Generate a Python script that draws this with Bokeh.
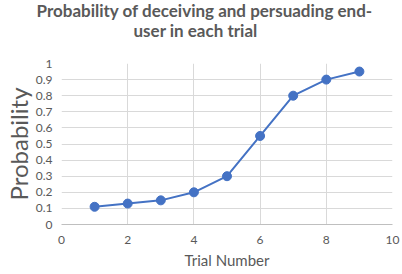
from bokeh.plotting import figure
from bokeh.models import Title, FixedTicker, Range1d, NumeralTickFormatter
from bokeh.embed import file_html
from bokeh.resources import INLINE

trials = [1, 2, 3, 4, 5, 6, 7, 8, 9]
prob = [0.11, 0.13, 0.15, 0.20, 0.30, 0.55, 0.80, 0.90, 0.95]
x_ticks = [0, 2, 4, 6, 8, 10]
y_ticks = [0, 0.1, 0.2, 0.3, 0.4, 0.5, 0.6, 0.7, 0.8, 0.9, 1.0]
title_lines = ["Probability of deceiving and persuading end-", "user in each trial"]
x_label = "Trial Number"
y_label = "Probability"

FONT = "Lato"
TXT = "#595959"
BLUE = "#4472C4"
GRID = "#D9D9D9"

p = figure(width=402, height=274, output_backend="svg", toolbar_location=None,
           x_range=Range1d(0, 10), y_range=Range1d(0, 1),
           min_border_left=61, min_border_right=10, min_border_top=0, min_border_bottom=50,
           title=None)
p.outline_line_color = None
p.background_fill_color = "white"
p.border_fill_color = "white"

# above-panel stack (innermost first): spacer, line 2, line 1
p.add_layout(Title(text=" ", text_font_size="1px", standoff=20), "above")
p.add_layout(Title(text=title_lines[1], align="left", offset=72, text_font=FONT,
                   text_font_size="17px", text_font_style="bold", text_color=TXT,
                   standoff=0), "above")
p.add_layout(Title(text=title_lines[0], align="left", offset=-25, text_font=FONT,
                   text_font_size="17px", text_font_style="bold", text_color=TXT,
                   standoff=-6), "above")

p.line(trials, prob, line_color=BLUE, line_width=2)
p.scatter(trials, prob, size=9, fill_color=BLUE, line_color=BLUE)

p.xaxis.ticker = FixedTicker(ticks=x_ticks)
p.yaxis.ticker = FixedTicker(ticks=y_ticks)
p.yaxis.formatter = NumeralTickFormatter(format="0.[0]")
p.xgrid.grid_line_color = GRID
p.ygrid.grid_line_color = GRID
p.xgrid.grid_line_width = 1
p.ygrid.grid_line_width = 1

for ax in (p.xaxis, p.yaxis):
    ax.major_tick_line_color = None
    ax.minor_tick_line_color = None
    ax.major_tick_out = 0
    ax.major_tick_in = 0
    ax.minor_tick_out = 0
    ax.minor_tick_in = 0
    ax.major_label_text_font = FONT
    ax.major_label_text_font_size = "12px"
    ax.major_label_text_color = TXT
    ax.axis_label_text_font = FONT
    ax.axis_label_text_font_style = "normal"
    ax.axis_label_text_color = TXT

p.yaxis.axis_line_color = None
p.xaxis.axis_line_color = "#BFBFBF"
p.xaxis.major_label_standoff = 11
p.yaxis.major_label_standoff = 9
p.xaxis.axis_label = x_label
p.xaxis.axis_label_text_font_size = "15px"
p.xaxis.axis_label_standoff = 4
p.yaxis.axis_label = y_label
p.yaxis.axis_label_text_font_size = "24px"
p.yaxis.axis_label_standoff = 0

open("out.html", "w").write(file_html(p, INLINE))
